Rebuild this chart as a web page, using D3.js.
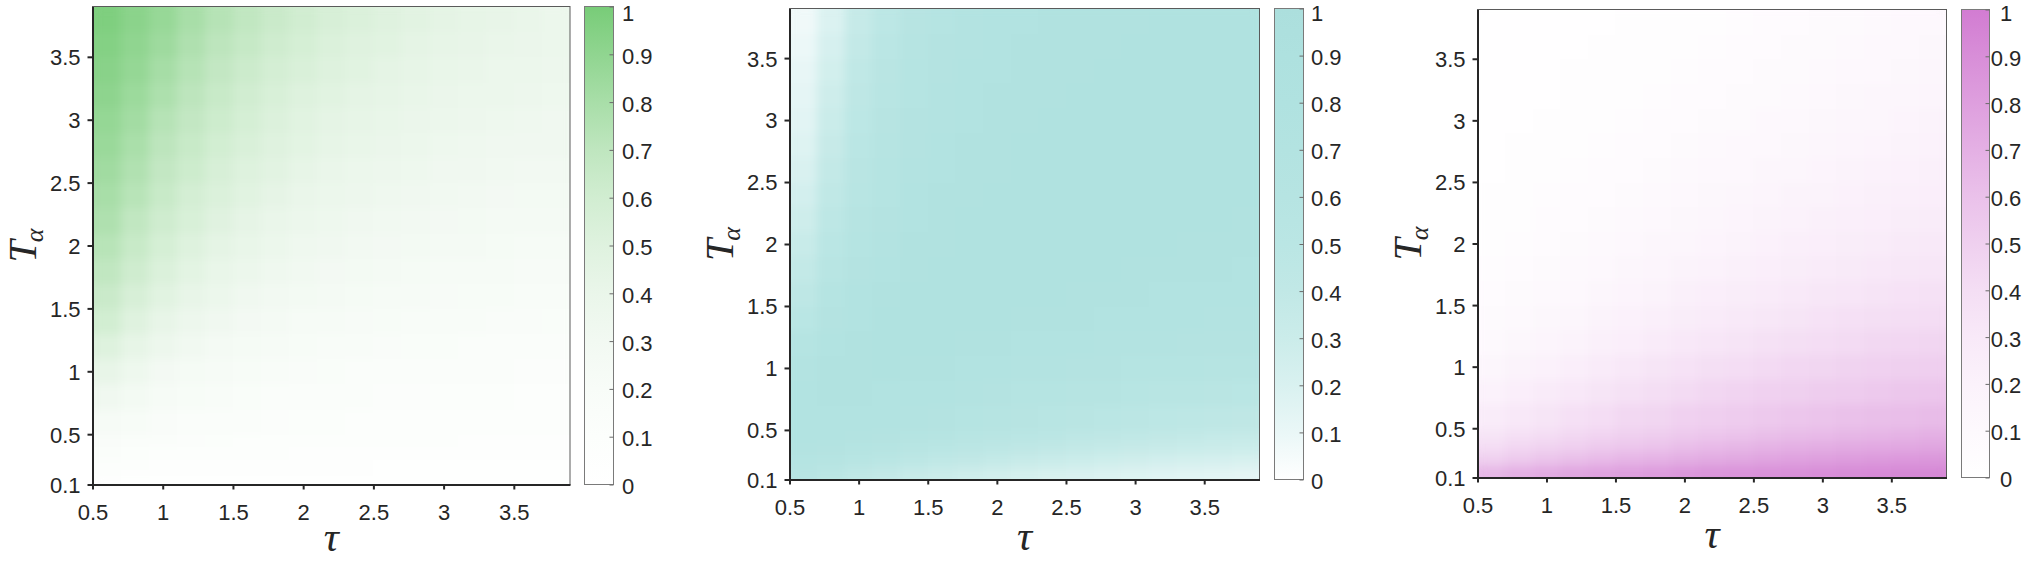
<!DOCTYPE html>
<html><head><meta charset="utf-8">
<script src="https://cdn.jsdelivr.net/npm/d3@7"></script>
<style>html,body{margin:0;padding:0;background:#fff;} svg{display:block}</style>
</head><body>
<svg id="chart" width="2025" height="562"></svg>
<script>
// ---------------- DATA ----------------
const tauTicks = [0.5, 1, 1.5, 2, 2.5, 3, 3.5];
const talphaTicks = [0.1, 0.5, 1, 1.5, 2, 2.5, 3, 3.5];
const colorbarTicks = [0, 0.1, 0.2, 0.3, 0.4, 0.5, 0.6, 0.7, 0.8, 0.9, 1];
const tauDomain = [0.5, 3.9];
const talphaDomain = [0.1, 3.9];
// cell edges (data units)
const tauEdges = [0.5, 0.7, 0.9, 1.1, 1.3, 1.5, 1.7, 1.9, 2.1, 2.3, 2.5, 2.7, 2.9, 3.1, 3.3, 3.5, 3.7, 3.9];
const talphaEdges = [0.1, 0.2, 0.3, 0.4, 0.5, 0.7, 0.9, 1.1, 1.3, 1.5, 1.7, 1.9, 2.1, 2.3, 2.5, 2.7, 2.9, 3.1, 3.3, 3.5, 3.7, 3.9];

// rows: ascending T_alpha (bottom row first); columns: ascending tau
const greenValues = [
  [.06,.05,.05,.05,.04,.04,.04,.04,.04,.03,.03,.03,.03,.03,.03,.03,.03],
  [.10,.09,.08,.08,.07,.07,.06,.06,.06,.06,.05,.05,.05,.05,.05,.05,.05],
  [.14,.12,.11,.10,.10,.09,.09,.08,.08,.08,.07,.07,.07,.07,.07,.06,.06],
  [.18,.16,.14,.13,.12,.11,.11,.10,.10,.09,.09,.09,.09,.08,.08,.08,.08],
  [.24,.21,.18,.16,.15,.14,.13,.12,.12,.11,.11,.11,.10,.10,.10,.10,.09],
  [.33,.28,.24,.21,.19,.17,.16,.15,.14,.14,.13,.13,.12,.12,.12,.11,.11],
  [.42,.35,.29,.25,.23,.21,.19,.18,.17,.16,.15,.15,.14,.14,.14,.13,.13],
  [.51,.43,.36,.31,.27,.25,.23,.21,.20,.19,.18,.17,.17,.16,.16,.15,.15],
  [.59,.50,.42,.36,.32,.29,.26,.24,.23,.22,.21,.20,.19,.19,.18,.18,.17],
  [.64,.56,.48,.42,.37,.33,.30,.28,.26,.25,.24,.23,.22,.21,.21,.20,.20],
  [.69,.61,.53,.46,.41,.37,.34,.31,.29,.28,.26,.25,.24,.23,.23,.22,.22],
  [.73,.65,.57,.51,.45,.41,.37,.34,.32,.30,.29,.28,.27,.26,.25,.24,.24],
  [.77,.69,.61,.55,.49,.44,.40,.37,.35,.33,.31,.30,.29,.28,.27,.26,.26],
  [.80,.73,.65,.58,.53,.48,.44,.40,.38,.36,.34,.32,.31,.30,.29,.28,.28],
  [.83,.76,.68,.62,.56,.51,.47,.43,.40,.38,.36,.35,.33,.32,.31,.30,.30],
  [.86,.79,.71,.65,.59,.54,.50,.46,.43,.41,.39,.37,.35,.34,.33,.32,.32],
  [.88,.82,.74,.68,.62,.57,.52,.48,.45,.43,.41,.39,.37,.36,.35,.34,.33],
  [.91,.85,.78,.71,.65,.60,.55,.51,.48,.45,.43,.41,.39,.38,.37,.36,.35],
  [.93,.88,.81,.74,.68,.63,.58,.54,.51,.48,.45,.43,.41,.40,.38,.37,.36],
  [.95,.90,.84,.77,.71,.66,.61,.57,.53,.50,.48,.45,.43,.42,.40,.39,.38],
  [.97,.92,.87,.80,.74,.69,.64,.60,.56,.53,.50,.47,.45,.43,.42,.40,.38]
];
const cyanValues = [
  [.55,.48,.42,.37,.33,.30,.27,.25,.23,.21,.20,.18,.17,.16,.15,.14,.13],
  [.65,.60,.55,.50,.46,.42,.39,.36,.33,.31,.29,.27,.26,.24,.23,.22,.21],
  [.70,.68,.64,.60,.56,.52,.49,.46,.43,.40,.38,.36,.34,.33,.31,.30,.29],
  [.72,.72,.70,.67,.63,.59,.56,.53,.50,.48,.45,.43,.41,.39,.38,.36,.35],
  [.73,.74,.74,.72,.69,.66,.63,.60,.58,.55,.53,.51,.49,.47,.46,.44,.43],
  [.75,.76,.76,.75,.74,.72,.70,.67,.65,.63,.61,.59,.57,.56,.54,.53,.52],
  [.70,.76,.78,.79,.78,.77,.75,.73,.71,.69,.68,.66,.65,.63,.62,.61,.60],
  [.62,.73,.78,.80,.80,.79,.78,.77,.75,.74,.72,.71,.70,.69,.68,.67,.66],
  [.52,.67,.75,.79,.80,.80,.80,.79,.78,.77,.76,.75,.74,.73,.72,.71,.70],
  [.45,.62,.72,.77,.80,.80,.81,.81,.80,.79,.78,.77,.76,.75,.74,.74,.73],
  [.38,.56,.68,.74,.78,.80,.80,.81,.81,.80,.80,.79,.78,.77,.77,.76,.75],
  [.33,.51,.64,.71,.76,.78,.80,.80,.81,.81,.80,.80,.79,.79,.78,.78,.77],
  [.28,.46,.60,.68,.74,.77,.79,.80,.80,.80,.80,.80,.80,.80,.79,.79,.78],
  [.24,.42,.56,.65,.72,.76,.78,.79,.80,.80,.80,.80,.80,.80,.80,.79,.79],
  [.20,.38,.53,.63,.70,.74,.77,.78,.79,.80,.80,.80,.80,.80,.80,.80,.80],
  [.17,.34,.50,.61,.68,.73,.76,.78,.79,.79,.80,.80,.80,.80,.80,.80,.80],
  [.15,.31,.47,.58,.66,.71,.75,.77,.78,.79,.79,.80,.80,.80,.80,.80,.80],
  [.13,.28,.44,.56,.64,.70,.74,.76,.77,.78,.79,.79,.80,.80,.80,.80,.80],
  [.11,.25,.41,.53,.62,.68,.72,.75,.77,.78,.78,.79,.79,.80,.80,.80,.80],
  [.09,.22,.38,.50,.60,.67,.71,.74,.76,.77,.78,.78,.79,.79,.80,.80,.80],
  [.07,.19,.35,.47,.58,.65,.70,.73,.75,.76,.77,.78,.78,.79,.79,.80,.80]
];
const magentaValues = [
  [.66,.70,.73,.76,.78,.80,.82,.84,.86,.87,.88,.89,.90,.91,.92,.93,.93],
  [.50,.54,.58,.61,.64,.67,.69,.71,.73,.75,.77,.79,.80,.82,.83,.84,.85],
  [.41,.45,.48,.51,.54,.57,.59,.62,.64,.66,.68,.70,.71,.73,.74,.75,.76],
  [.34,.38,.41,.44,.47,.50,.52,.55,.57,.59,.61,.63,.64,.66,.67,.68,.70],
  [.27,.31,.34,.38,.41,.44,.46,.49,.51,.53,.55,.57,.58,.60,.61,.62,.63],
  [.20,.24,.28,.31,.34,.37,.40,.42,.45,.47,.49,.50,.52,.53,.55,.56,.57],
  [.14,.18,.21,.25,.28,.31,.34,.36,.39,.41,.43,.45,.46,.48,.49,.50,.51],
  [.10,.13,.16,.19,.22,.25,.28,.31,.33,.35,.37,.39,.41,.42,.44,.45,.46],
  [.08,.10,.13,.15,.18,.21,.23,.26,.28,.30,.32,.34,.36,.38,.39,.40,.41],
  [.06,.08,.10,.12,.15,.17,.19,.22,.24,.26,.28,.30,.32,.33,.35,.36,.37],
  [.05,.07,.08,.10,.12,.14,.16,.18,.20,.22,.24,.26,.28,.29,.31,.32,.33],
  [.04,.05,.07,.08,.10,.12,.14,.15,.17,.19,.21,.23,.24,.26,.27,.29,.30],
  [.03,.04,.06,.07,.08,.10,.12,.13,.15,.17,.18,.20,.22,.23,.25,.26,.27],
  [.03,.04,.05,.06,.07,.08,.10,.11,.13,.14,.16,.18,.19,.21,.22,.23,.24],
  [.02,.03,.04,.05,.06,.07,.08,.10,.11,.12,.14,.15,.17,.18,.20,.21,.22],
  [.02,.03,.03,.04,.05,.06,.07,.08,.10,.11,.12,.13,.15,.16,.17,.19,.20],
  [.02,.02,.03,.04,.04,.05,.06,.07,.08,.09,.11,.12,.13,.14,.15,.17,.18],
  [.01,.02,.02,.03,.04,.04,.05,.06,.07,.08,.09,.10,.11,.13,.14,.15,.16],
  [.01,.02,.02,.03,.03,.04,.04,.05,.06,.07,.08,.09,.10,.11,.12,.13,.14],
  [.01,.01,.02,.02,.03,.03,.04,.04,.05,.06,.07,.08,.09,.10,.11,.12,.13],
  [.01,.01,.02,.02,.02,.03,.03,.04,.04,.05,.06,.07,.08,.09,.10,.11,.12]
];
// colormap colours read at the colorbar ticks 0, 0.1, ..., 1
const greenStops = ["#ffffff","#fcfefc","#f8fcf8","#f2f9f2","#eaf6ea","#dff2df","#d1edd1","#bfe6bf","#a8dea8","#90d590","#78cc78"];
const cyanStops = ["#ffffff","#eaf7f7","#d9f1f0","#cbecea","#c1e8e6","#bae6e4","#b6e4e2","#b3e3e1","#b0e2e0","#aee1df","#acdfdd"];
const magentaStops = ["#ffffff","#fdf9fd","#fbf2fb","#f8e9f8","#f4def4","#efd0ef","#eac1ea","#e4b0e4","#de9fde","#d88ed8","#d27cd2"];

// ---------------- LAYOUT ----------------
const panels = [
  {values: greenValues, stops: greenStops, x0: 92.5, x1: 570, y0: 6.5, y1: 484.5, cb0: 584.5, cb1: 613.5, cbAnchor: "start", cbLabelX: 622},
  {values: cyanValues, stops: cyanStops, x0: 789.5, x1: 1259.5, y0: 8.5, y1: 479.5, cb0: 1274.5, cb1: 1303.5, cbAnchor: "start", cbLabelX: 1311},
  {values: magentaValues, stops: magentaStops, x0: 1477.5, x1: 1946.5, y0: 9.5, y1: 477.5, cb0: 1961.5, cb1: 1989.5, cbAnchor: "middle", cbLabelX: 2006}
];
const tickFont = "22px 'Liberation Sans', Arial, Helvetica, sans-serif";
const fmt = d => d3.format("~g")(d);

const svg = d3.select("#chart");
const defs = svg.append("defs");
const filt = defs.append("filter").attr("id", "smooth")
  .attr("x", "-3%").attr("y", "-3%").attr("width", "106%").attr("height", "106%")
  .attr("color-interpolation-filters", "sRGB");
filt.append("feGaussianBlur").attr("stdDeviation", 5);
filt.append("feComponentTransfer").append("feFuncA").attr("type", "linear").attr("slope", 0).attr("intercept", 1);

panels.forEach((p, pi) => {
  const x = d3.scaleLinear().domain(tauDomain).range([p.x0, p.x1]);
  const y = d3.scaleLinear().domain(talphaDomain).range([p.y1, p.y0]);
  const color = d3.scaleLinear().domain(colorbarTicks).range(p.stops).interpolate(d3.interpolateRgb).clamp(true);
  const g = svg.append("g");

  defs.append("clipPath").attr("id", "clip" + pi).append("rect")
    .attr("x", p.x0).attr("y", p.y0).attr("width", p.x1 - p.x0).attr("height", p.y1 - p.y0);

  // cells
  const cells = [];
  p.values.forEach((row, i) => row.forEach((v, j) => cells.push({i, j, v})));
  g.append("g").attr("clip-path", `url(#clip${pi})`)
    .append("g").attr("filter", "url(#smooth)")
    .selectAll("rect").data(cells).join("rect")
    .attr("shape-rendering", "crispEdges")
    .attr("x", d => x(tauEdges[d.j]))
    .attr("width", d => x(tauEdges[d.j + 1]) - x(tauEdges[d.j]) + 0.6)
    .attr("y", d => y(talphaEdges[d.i + 1]))
    .attr("height", d => y(talphaEdges[d.i]) - y(talphaEdges[d.i + 1]) + 0.6)
    .attr("fill", d => color(d.v));

  // frame
  g.append("rect").attr("x", p.x0).attr("y", p.y0).attr("width", p.x1 - p.x0).attr("height", p.y1 - p.y0)
    .attr("fill", "none").attr("stroke", "#5a5a5a").attr("stroke-width", 1);

  // x axis
  const xAxis = d3.axisBottom(x).tickValues(tauTicks).tickFormat(fmt).tickSize(5).tickSizeOuter(0).tickPadding(15);
  const xa = g.append("g").attr("transform", `translate(0,${p.y1})`).call(xAxis);
  // y axis
  const yAxis = d3.axisLeft(y).tickValues(talphaTicks).tickFormat(fmt).tickSize(5).tickSizeOuter(0).tickPadding(7);
  const ya = g.append("g").attr("transform", `translate(${p.x0},0)`).call(yAxis);
  [xa, ya].forEach(a => {
    a.select(".domain").attr("stroke", "#262626").attr("stroke-width", 2);
    a.selectAll(".tick line").attr("stroke", "#262626").attr("stroke-width", 2);
    a.selectAll(".tick text").style("font", tickFont).attr("fill", "#262626");
  });
  xa.selectAll(".tick text").attr("dy", "0.71em");
  ya.selectAll(".tick text").attr("dy", "0.36em");

  // axis titles
  g.append("text").attr("x", (p.x0 + p.x1) / 2).attr("y", Math.min(p.y1 + 70, 551))
    .attr("text-anchor", "middle")
    .style("font", "italic 42px 'Liberation Serif', 'DejaVu Serif', serif").attr("fill", "#262626")
    .text("τ");
  const yt = g.append("text")
    .attr("transform", `translate(${p.x0 - 57},${(p.y0 + p.y1) / 2}) rotate(-90)`)
    .attr("text-anchor", "middle")
    .style("font", "italic 40px 'Liberation Serif', 'DejaVu Serif', serif").attr("fill", "#262626");
  yt.append("tspan").text("T");
  yt.append("tspan").attr("dy", 7).attr("dx", -2).style("font-size", "26px").text("α");

  // colorbar
  const gradId = "grad" + pi;
  const grad = defs.append("linearGradient").attr("id", gradId).attr("x1", 0).attr("x2", 0).attr("y1", 1).attr("y2", 0);
  grad.selectAll("stop").data(colorbarTicks).join("stop")
    .attr("offset", d => d).attr("stop-color", d => color(d));
  const cy = d3.scaleLinear().domain([0, 1]).range([p.y1, p.y0]);
  g.append("rect").attr("x", p.cb0).attr("y", p.y0).attr("width", p.cb1 - p.cb0).attr("height", p.y1 - p.y0)
    .attr("fill", `url(#${gradId})`).attr("stroke", "#7a7a7a").attr("stroke-width", 1);
  const cAxis = d3.axisRight(cy).tickValues(colorbarTicks).tickFormat(fmt).tickSize(-4).tickSizeOuter(0).tickPadding(0);
  const ca = g.append("g").attr("transform", `translate(${p.cb1},0)`).call(cAxis);
  ca.select(".domain").remove();
  ca.selectAll(".tick line").attr("stroke", "#6a6a6a").attr("stroke-width", 1);
  ca.selectAll(".tick text").style("font", tickFont).attr("fill", "#262626")
    .attr("x", p.cbLabelX - p.cb1).attr("text-anchor", p.cbAnchor)
    .attr("dy", d => Math.max(cy(d) + 9, 20.5) - cy(d));
});
</script>
</body></html>
